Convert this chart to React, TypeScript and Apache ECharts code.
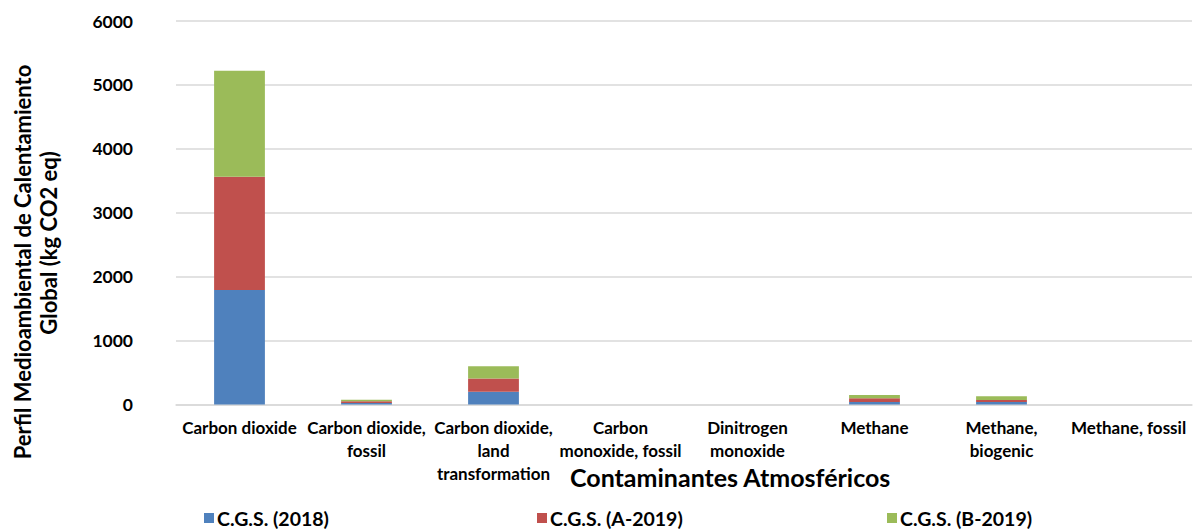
import React, { useEffect, useRef } from "react";
import * as echarts from "echarts";

const categories = [
  "Carbon dioxide",
  "Carbon dioxide,\nfossil",
  "Carbon dioxide,\nland\ntransformation",
  "Carbon\nmonoxide, fossil",
  "Dinitrogen\nmonoxide",
  "Methane",
  "Methane,\nbiogenic",
  "Methane, fossil",
];
const seriesNames = ["C.G.S. (2018)", "C.G.S. (A-2019)", "C.G.S. (B-2019)"];
const cgs2018 = [1790, 25, 200, 0, 0, 40, 40, 0];
const cgsA2019 = [1775, 25, 205, 0, 0, 58, 32, 0];
const cgsB2019 = [1655, 25, 195, 0, 0, 52, 58, 0];
const yTicks = { min: 0, max: 6000, interval: 1000 };
const colors = ["#4F81BD", "#C0504D", "#9BBB59"];

const FONT = "Lato, 'Open Sans', sans-serif";

export default function App() {
  const ref = useRef<HTMLDivElement>(null);
  useEffect(() => {
    if (!ref.current) return;
    const chart = echarts.init(ref.current, null, { renderer: "svg" });
    const data = [cgs2018, cgsA2019, cgsB2019];
    const legendLefts = [204, 537, 887];
    chart.setOption({
      animation: false,
      grid: { left: 176, right: 3, top: 21, bottom: 124.5, containLabel: false },
      xAxis: {
        type: "category",
        data: categories,
        axisLine: { lineStyle: { color: "#D9D9D9", width: 1.5 } },
        axisTick: { show: false },
        axisLabel: {
          color: "#000",
          fontFamily: FONT,
          fontWeight: "bold",
          fontSize: 17,
          lineHeight: 23,
          margin: 11,
          interval: 0,
          align: "center",
        },
      },
      yAxis: {
        type: "value",
        min: yTicks.min,
        max: yTicks.max,
        interval: yTicks.interval,
        axisLine: { show: false },
        axisTick: { show: false },
        splitLine: { lineStyle: { color: "#D9D9D9", width: 1.5 } },
        axisLabel: {
          color: "#000",
          fontFamily: FONT,
          fontWeight: "bold",
          fontSize: 17.5,
          margin: 43,
          formatter: (v: number) => String(v),
        },
      },
      legend: seriesNames.map((n, i) => ({
        data: [n],
        left: legendLefts[i],
        top: 508,
        itemWidth: 10,
        itemHeight: 10,
        itemGap: 0,
        icon: "rect",
        padding: 0,
        textStyle: {
          color: "#000",
          fontFamily: FONT,
          fontWeight: "bold",
          fontSize: 19.5,
          lineHeight: 20,
          padding: [0, 0, 0, -2],
        },
      })),
      series: seriesNames.map((n, i) => ({
        name: n,
        type: "bar",
        stack: "total",
        data: data[i],
        barWidth: "40%",
        itemStyle: { color: colors[i] },
      })),
      graphic: [
        {
          type: "text",
          left: 570,
          top: 464,
          style: {
            text: "Contaminantes Atmosféricos",
            fontFamily: FONT,
            fontWeight: "bold",
            fontSize: 25,
            fill: "#000",
          },
        },
        {
          type: "text",
          x: 22,
          y: 262,
          rotation: Math.PI / 2,
          style: {
            text: "Perfil Medioambiental de Calentamiento",
            fontFamily: FONT,
            fontWeight: "bold",
            fontSize: 22,
            fill: "#000",
            align: "center",
            verticalAlign: "middle",
          },
        },
        {
          type: "text",
          x: 48,
          y: 243,
          rotation: Math.PI / 2,
          style: {
            text: "Global (kg CO2 eq)",
            fontFamily: FONT,
            fontWeight: "bold",
            fontSize: 22,
            fill: "#000",
            align: "center",
            verticalAlign: "middle",
          },
        },
      ],
    });
    return () => chart.dispose();
  }, []);
  return <div ref={ref} style={{ width: 1195, height: 529, position: "absolute", left: 0, top: 0 }} />;
}
